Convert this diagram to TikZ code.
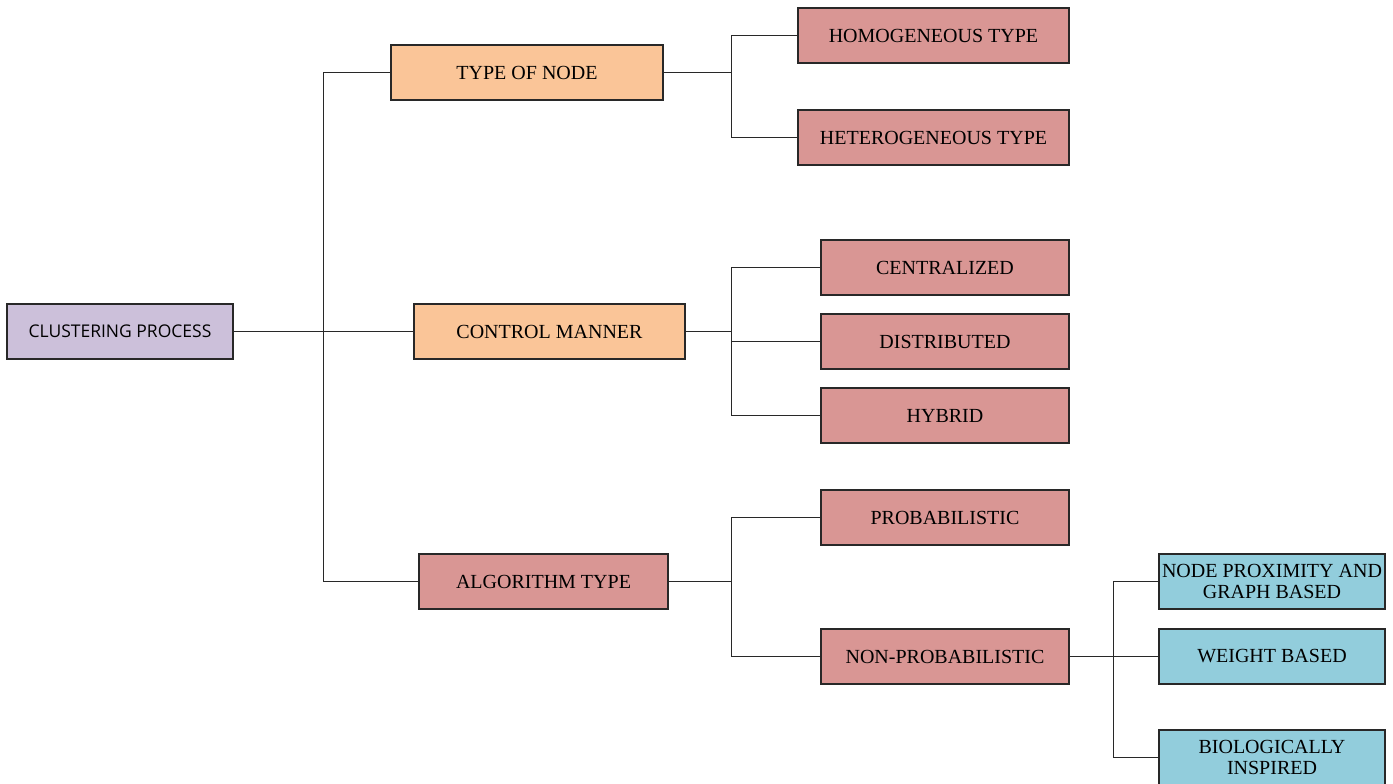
\documentclass[tikz,border=0pt]{standalone}
\usepackage{fontspec}
\setmainfont{Liberation Serif}
\newfontfamily\boxsans{Open Sans}
\definecolor{rootfill}{RGB}{204,192,218}
\definecolor{catfill}{RGB}{250,197,152}
\definecolor{leaffill}{RGB}{217,150,148}
\definecolor{subfill}{RGB}{146,205,220}
\definecolor{edge}{RGB}{40,40,40}
\begin{document}
\begin{tikzpicture}[x=1pt,y=-1pt,
  box/.style={draw=edge,line width=1.2pt,minimum height=55pt,inner sep=0pt,
    align=center,font=\fontsize{20}{21}\selectfont},
  rootbox/.style={box,fill=rootfill,minimum width=226pt,font=\boxsans\fontsize{17.5}{20}\selectfont},
  catbox/.style={box,fill=catfill},
  leafbox/.style={box,fill=leaffill},
  subbox/.style={box,fill=subfill,minimum width=226pt},
  link/.style={draw=edge,line width=1pt}]
\useasboundingbox (0,0) rectangle (1393,784);
\fill[white] (0,0) rectangle (1393,784);

% root and first level
\node[rootbox] (root) at (120,331.5) {CLUSTERING PROCESS};
\node[catbox,minimum width=272pt] (ton) at (527,72.5) {TYPE OF NODE};
\node[catbox,minimum width=271pt] (cm) at (549.5,331.5) {CONTROL MANNER};
\node[leafbox,minimum width=249pt] (alg) at (543.5,581.5) {ALGORITHM TYPE};

% second level
\node[leafbox,minimum width=271pt] (homo) at (933.5,35.5) {HOMOGENEOUS TYPE};
\node[leafbox,minimum width=271pt] (hetero) at (933.5,137.5) {HETEROGENEOUS TYPE};
\node[leafbox,minimum width=248pt] (cen) at (945,267.5) {CENTRALIZED};
\node[leafbox,minimum width=248pt] (dis) at (945,341.5) {DISTRIBUTED};
\node[leafbox,minimum width=248pt] (hyb) at (945,415.5) {HYBRID};
\node[leafbox,minimum width=248pt] (prob) at (945,517.5) {PROBABILISTIC};
\node[leafbox,minimum width=248pt] (nprob) at (945,656.5) {NON-PROBABILISTIC};

% third level
\node[subbox] (prox) at (1272,581.5) {NODE PROXIMITY AND\\GRAPH BASED};
\node[subbox] (wgt) at (1272,656.5) {WEIGHT BASED};
\node[subbox] (bio) at (1272,757.5) {BIOLOGICALLY\\INSPIRED};

% connectors
\coordinate (j0) at (323,331.5);
\draw[link] (root.east) -- (j0);
\draw[link] (j0) |- (ton.west);
\draw[link] (j0) -- (cm.west);
\draw[link] (j0) |- (alg.west);

\coordinate (j1) at (731,72.5);
\draw[link] (ton.east) -- (j1);
\draw[link] (j1) |- (homo.west);
\draw[link] (j1) |- (hetero.west);

\coordinate (j2) at (731,331.5);
\draw[link] (cm.east) -- (j2);
\draw[link] (j2) |- (cen.west);
\draw[link] (j2) |- (dis.west);
\draw[link] (j2) |- (hyb.west);

\coordinate (j3) at (731,581.5);
\draw[link] (alg.east) -- (j3);
\draw[link] (j3) |- (prob.west);
\draw[link] (j3) |- (nprob.west);

\coordinate (j4) at (1113,656.5);
\draw[link] (nprob.east) -- (j4);
\draw[link] (j4) |- (prox.west);
\draw[link] (j4) -- (wgt.west);
\draw[link] (j4) |- (bio.west);
\end{tikzpicture}
\end{document}
